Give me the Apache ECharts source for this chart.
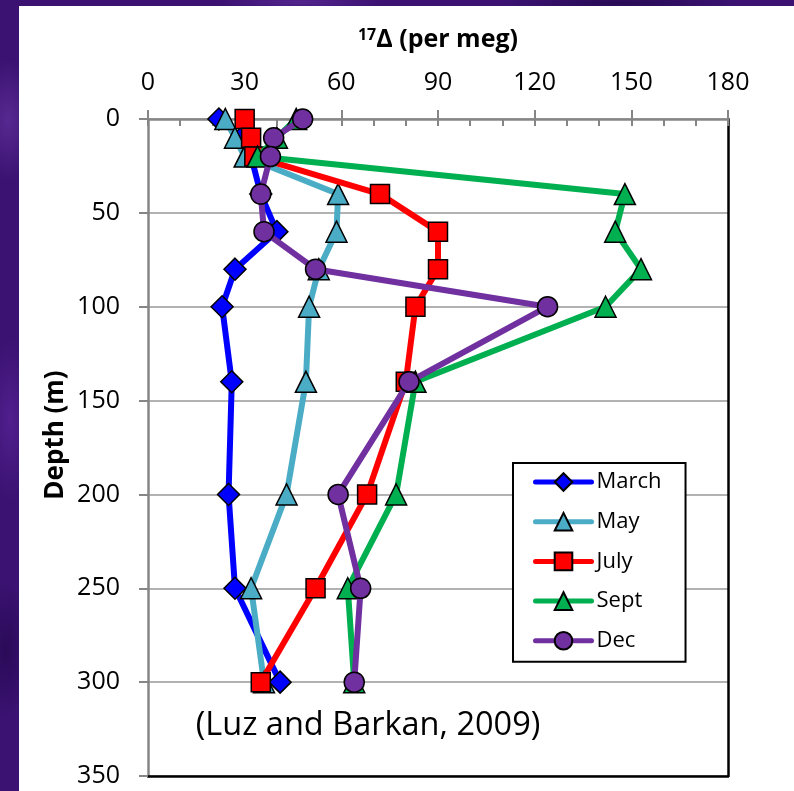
<!DOCTYPE html>
<html>
<head>
<meta charset="utf-8">
<script src="https://cdn.jsdelivr.net/npm/echarts@6/dist/echarts.min.js"></script>
<style>
  html, body { margin: 0; padding: 0; }
  body {
    width: 794px; height: 791px; position: relative; overflow: hidden;
    background-color: #3b1272;
    background-image:
      radial-gradient(ellipse 30px 60px at 8px 120px, rgba(110,60,170,0.55), rgba(0,0,0,0)),
      radial-gradient(ellipse 25px 80px at 10px 420px, rgba(95,40,160,0.6), rgba(0,0,0,0)),
      radial-gradient(ellipse 25px 70px at 6px 650px, rgba(30,5,70,0.6), rgba(0,0,0,0)),
      radial-gradient(ellipse 80px 10px at 300px 2px, rgba(100,50,160,0.6), rgba(0,0,0,0)),
      radial-gradient(ellipse 120px 8px at 620px 3px, rgba(25,5,60,0.6), rgba(0,0,0,0));
  }
  #panel { position: absolute; left: 19px; top: 6px; right: 0; bottom: 0; background: #ffffff; }
  #chart { position: absolute; left: 0; top: 0; width: 794px; height: 791px; }
</style>
</head>
<body>
<div id="panel"></div>
<div id="chart"></div>
<script>
// Depth (m) of each sample
const depths = [0, 10, 20, 40, 60, 80, 100, 140, 200, 250, 300];
// 17Δ (per meg) values per month
const march = [22, 29, 32, 35, 40, 27, 23, 26, 25, 27, 41];
const may   = [24, 27, 30, 59, 58.5, 53, 50, 49, 43, 32, 36];
const july  = [30, 32, 33, 72, 90, 90, 83, 80, 68, 52, 35];
const sept  = [46, 40, 34, 148, 145, 153, 142, 83, 77, 62, 64];
const dec   = [48, 39, 38, 35, 36, 52, 124, 81, 59, 66, 64];
const seriesNames = ['March', 'May', 'July', 'Sept', 'Dec'];
const xTicks = [0, 30, 60, 90, 120, 150, 180];
const yTicks = [0, 50, 100, 150, 200, 250, 300, 350];

const valuesList = [march, may, july, sept, dec];
const colors = ['#0000FF', '#4BACC6', '#FF0000', '#00B050', '#7030A0'];
const symbols = ['diamond', 'triangle', 'rect', 'triangle', 'circle'];
const sizes = [22, 21, 19, 21, 20];

const chart = echarts.init(document.getElementById('chart'), null, { renderer: 'canvas' });
const FONT = '"Open Sans", "DejaVu Sans", sans-serif';
const GRAY = '#868686';

const series = seriesNames.map((name, i) => ({
  name: name,
  type: 'line',
  xAxisIndex: 0,
  yAxisIndex: 0,
  data: depths.map((d, k) => [valuesList[i][k], d]),
  symbol: symbols[i],
  symbolSize: sizes[i],
  lineStyle: { color: colors[i], width: 6 },
  itemStyle: { color: colors[i], borderColor: '#000', borderWidth: 1.5 },
  emphasis: { disabled: true },
  animation: false,
  clip: false,
  z: 3 + i
}));

chart.setOption({
  animation: false,
  grid: { left: 148, right: 66, top: 119, bottom: 15, containLabel: false },
  xAxis: [
    {
      type: 'value', position: 'top', min: xTicks[0], max: xTicks[xTicks.length - 1], interval: 30,
      axisLine: { show: true, lineStyle: { color: GRAY, width: 2.5 } },
      axisTick: { show: true, inside: false, length: 9, lineStyle: { color: GRAY, width: 2 } },
      axisLabel: { show: true, margin: 24, color: '#000', fontFamily: FONT, fontSize: 25 },
      splitLine: { show: false }
    },
    {
      type: 'value', position: 'top', min: 0, max: 180, interval: 10,
      axisLine: { show: false },
      axisTick: { show: true, inside: true, length: 7, lineStyle: { color: GRAY, width: 2 } },
      axisLabel: { show: false },
      splitLine: { show: false }
    },
    {
      type: 'value', position: 'bottom', min: 0, max: 180, interval: 30,
      axisLine: { show: true, onZero: false, lineStyle: { color: '#000', width: 2.5 } },
      axisTick: { show: false }, axisLabel: { show: false }, splitLine: { show: false }
    }
  ],
  yAxis: [
    {
      type: 'value', inverse: true, position: 'left', min: yTicks[0], max: yTicks[yTicks.length - 1], interval: 50,
      axisLine: { show: true, onZero: false, lineStyle: { color: GRAY, width: 2.5 } },
      axisTick: { show: true, inside: false, length: 9, lineStyle: { color: GRAY, width: 2 } },
      axisLabel: { show: true, margin: 28, color: '#000', fontFamily: FONT, fontSize: 25 },
      splitLine: { show: true, lineStyle: { color: '#999999', width: 1.5 } }
    },
    {
      type: 'value', inverse: true, position: 'right', min: 0, max: 350, interval: 50,
      axisLine: { show: true, onZero: false, lineStyle: { color: '#000', width: 2.5 } },
      axisTick: { show: false }, axisLabel: { show: false }, splitLine: { show: false }
    }
  ],
  legend: {
    data: seriesNames,
    orient: 'vertical',
    left: 513, top: 463,
    padding: [8, 24, 10, 20],
    itemWidth: 56, itemHeight: 22, itemGap: 17.7,
    backgroundColor: '#fff',
    borderColor: '#000', borderWidth: 2,
    lineStyle: { width: 5, cap: 'round' },
    textStyle: { color: '#000', fontFamily: FONT, fontSize: 22 },
    selectedMode: false,
    z: 20
  },
  graphic: [
    {
      type: 'text', x: 438, y: 40, z: 20,
      style: {
        text: '{s|17}{b|Δ (per meg)}',
        align: 'center', verticalAlign: 'middle',
        rich: {
          s: { fontFamily: FONT, fontWeight: 'bold', fontSize: 16, fill: '#000', verticalAlign: 'top', padding: [0, 0, 10, 0] },
          b: { fontFamily: FONT, fontWeight: 'bold', fontSize: 25, fill: '#000' }
        }
      }
    },
    {
      type: 'text', x: 56, y: 435, rotation: Math.PI / 2, z: 20,
      style: { text: 'Depth (m)', align: 'center', verticalAlign: 'middle', fontFamily: FONT, fontWeight: 'bold', fontSize: 26, fill: '#000' }
    },
    {
      type: 'text', x: 368, y: 726, z: 20,
      style: { text: '(Luz and Barkan, 2009)', align: 'center', verticalAlign: 'middle', fontFamily: FONT, fontSize: 32.5, fill: '#000' }
    }
  ],
  series: series
});
</script>
</body>
</html>
